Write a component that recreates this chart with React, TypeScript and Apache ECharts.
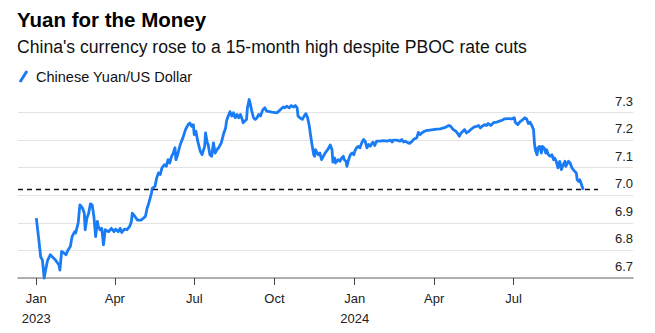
import React, { useEffect, useRef } from "react";
import * as echarts from "echarts";

// Days since 2023-01-01 for each observation
const dayOffsets = [
  0, 2, 5, 7, 9, 11, 13, 16, 22, 26, 27, 29, 32, 34, 36, 39, 41, 44, 45, 48,
  49, 50, 53, 55, 56, 58, 60, 62, 64, 66, 68, 70, 71, 73, 75, 77, 79, 83, 86, 89,
  91, 94, 96, 98, 101, 104, 107, 109, 110, 113, 116, 120, 125, 127, 129, 132, 133, 136, 138, 140,
  142, 144, 147, 149, 151, 153, 155, 157, 159, 160, 162, 165, 168, 171, 174, 176, 178, 180, 181, 183,
  185, 188, 190, 193, 194, 196, 197, 199, 201, 203, 205, 207, 209, 212, 215, 217, 218, 220, 222, 224,
  226, 228, 230, 232, 234, 236, 237, 239, 241, 242, 244, 245, 247, 249, 251, 253, 255, 257, 259, 260,
  262, 264, 270, 276, 278, 280, 283, 285, 287, 290, 292, 295, 297, 299, 300, 302, 305, 307, 309, 311,
  313, 314, 316, 318, 319, 320, 323, 325, 327, 329, 331, 334, 337, 339, 340, 342, 343, 346, 348, 350,
  352, 353, 355, 356, 358, 360, 362, 364, 365, 367, 369, 371, 373, 375, 377, 379, 381, 383, 385, 386,
  388, 390, 394, 398, 402, 406, 408, 409, 413, 417, 419, 421, 423, 426, 428, 431, 433, 436, 438, 440,
  442, 445, 447, 451, 455, 459, 463, 467, 470, 473, 475, 478, 481, 483, 485, 487, 489, 491, 493, 496,
  499, 502, 505, 507, 509, 511, 514, 516, 518, 521, 524, 528, 531, 534, 537, 541, 545, 548, 549, 552,
  554, 557, 560, 562, 564, 566, 568, 570, 571, 572, 574, 575, 577, 579, 580, 582, 584, 585, 587, 589,
  591, 593, 594, 596, 598, 600, 602, 604, 606, 607, 610, 612, 614, 617, 619, 620, 622, 623, 625, 627,
];

// Chinese yuan per US dollar
const usdCny = [
  6.917, 6.863, 6.777, 6.765, 6.7, 6.735, 6.765, 6.784, 6.765, 6.747, 6.729, 6.796, 6.79, 6.784, 6.8, 6.814, 6.85, 6.868, 6.863, 6.899,
  6.935, 6.965, 6.953, 6.935, 6.875, 6.917, 6.935, 6.969, 6.965, 6.923, 6.85, 6.905, 6.887, 6.875, 6.88, 6.82, 6.875, 6.868, 6.88, 6.868,
  6.877, 6.868, 6.88, 6.865, 6.877, 6.875, 6.887, 6.905, 6.935, 6.923, 6.91, 6.91, 6.923, 6.953, 6.972, 7.008, 7.026, 7.032, 7.063, 7.081,
  7.075, 7.099, 7.111, 7.105, 7.129, 7.117, 7.141, 7.153, 7.172, 7.129, 7.147, 7.184, 7.208, 7.238, 7.256, 7.262, 7.25, 7.256, 7.22, 7.232,
  7.196, 7.159, 7.147, 7.177, 7.226, 7.19, 7.184, 7.147, 7.141, 7.19, 7.153, 7.165, 7.172, 7.19, 7.226, 7.244, 7.269, 7.287, 7.303, 7.287,
  7.299, 7.281, 7.293, 7.281, 7.293, 7.275, 7.263, 7.269, 7.275, 7.317, 7.347, 7.335, 7.305, 7.281, 7.275, 7.281, 7.293, 7.287, 7.305, 7.311,
  7.317, 7.305, 7.301, 7.299, 7.305, 7.311, 7.32, 7.317, 7.323, 7.317, 7.325, 7.32, 7.325, 7.317, 7.287, 7.281, 7.275, 7.287, 7.296, 7.281,
  7.25, 7.226, 7.184, 7.147, 7.141, 7.165, 7.147, 7.153, 7.129, 7.141, 7.153, 7.165, 7.182, 7.165, 7.12, 7.135, 7.117, 7.129, 7.123, 7.135,
  7.141, 7.129, 7.123, 7.105, 7.129, 7.147, 7.153, 7.147, 7.159, 7.172, 7.177, 7.172, 7.19, 7.202, 7.196, 7.172, 7.184, 7.178, 7.19, 7.192,
  7.18, 7.196, 7.196, 7.198, 7.196, 7.2, 7.193, 7.2, 7.2, 7.196, 7.202, 7.193, 7.196, 7.19, 7.188, 7.196, 7.204, 7.208, 7.228, 7.22,
  7.226, 7.232, 7.234, 7.236, 7.238, 7.24, 7.241, 7.244, 7.248, 7.253, 7.25, 7.238, 7.232, 7.224, 7.214, 7.226, 7.232, 7.238, 7.226, 7.232,
  7.241, 7.248, 7.25, 7.253, 7.244, 7.25, 7.256, 7.253, 7.26, 7.253, 7.263, 7.265, 7.269, 7.272, 7.277, 7.278, 7.277, 7.281, 7.265, 7.256,
  7.265, 7.272, 7.281, 7.277, 7.26, 7.265, 7.253, 7.238, 7.19, 7.165, 7.147, 7.172, 7.177, 7.153, 7.177, 7.172, 7.153, 7.165, 7.147, 7.141,
  7.147, 7.129, 7.135, 7.123, 7.099, 7.123, 7.093, 7.111, 7.123, 7.105, 7.123, 7.117, 7.099, 7.087, 7.081, 7.056, 7.05, 7.056, 7.038, 7.02,
];

// Quarter starts (days since 2023-01-01) and their labels
const quarterTickDays = [0, 90, 181, 273, 365, 456, 547];
const quarterTickLabels = ["Jan\n2023", "Apr", "Jul", "Oct", "Jan\n2024", "Apr", "Jul"];

const yMin = 6.7;
const yMax = 7.3;
const yStep = 0.1;

const xStartDay = -21;
const xEndDay = 684;
const referenceLevel = 7.02;
const referenceEndDay = 644;

const titleText = "Yuan for the Money";
const subtitleText = "China's currency rose to a 15-month high despite PBOC rate cuts";
const legendText = "Chinese Yuan/US Dollar";

const FONT = "'Liberation Sans', Arial, Helvetica, sans-serif";
const BLUE = "#1a7cf5";

export default function App() {
  const ref = useRef<HTMLDivElement>(null);

  useEffect(() => {
    if (!ref.current) return;
    const chart = echarts.init(ref.current, null, { renderer: "svg" });
    const seriesData = dayOffsets.map((d, i) => [d, usdCny[i]]);

    chart.setOption({
      animation: false,
      textStyle: { fontFamily: FONT },
      title: [
        {
          text: titleText,
          left: 17,
          top: 9,
          padding: 0,
          textStyle: { fontFamily: FONT, fontSize: 20.5, fontWeight: "bold", color: "#000" },
        },
        {
          text: subtitleText,
          left: 17,
          top: 38,
          padding: 0,
          textStyle: { fontFamily: FONT, fontSize: 17.6, fontWeight: "normal", color: "#111" },
        },
      ],
      graphic: [
        {
          type: "line",
          shape: { x1: 20, y1: 82, x2: 27, y2: 71 },
          style: { stroke: BLUE, lineWidth: 3 },
        },
        {
          type: "text",
          x: 36,
          y: 77,
          style: {
            text: legendText,
            font: `14.5px ${FONT}`,
            fill: "#111",
            verticalAlign: "middle",
            align: "left",
          },
        },
      ],
      grid: { left: 18, right: 22, top: 112.5, bottom: 55, containLabel: false },
      xAxis: {
        type: "value",
        min: xStartDay,
        max: xEndDay,
        axisLine: { show: true, onZero: false, lineStyle: { color: "#999", width: 1.5 } },
        axisTick: {
          show: true,
          customValues: quarterTickDays,
          length: 7,
          lineStyle: { color: "#444", width: 1 },
        },
        axisLabel: {
          customValues: quarterTickDays,
          formatter: (v: number) => {
            const i = quarterTickDays.indexOf(Math.round(v));
            return i >= 0 ? quarterTickLabels[i] : "";
          },
          fontFamily: FONT,
          fontSize: 13,
          color: "#222",
          lineHeight: 20,
          margin: 10,
        },
        splitLine: { show: false },
      },
      yAxis: {
        type: "value",
        position: "right",
        min: yMin,
        max: yMax,
        interval: yStep,
        axisLine: { show: false },
        axisTick: { show: false },
        splitLine: { show: true, lineStyle: { color: "#e3e3e3", width: 1 } },
        axisLabel: {
          inside: true,
          margin: 0,
          align: "right",
          verticalAlign: "bottom",
          padding: [0, 0, 5, 0],
          fontFamily: FONT,
          fontSize: 13,
          color: "#222",
          formatter: (v: number) => v.toFixed(1),
        },
      },
      series: [
        {
          type: "line",
          data: seriesData,
          showSymbol: false,
          clip: false,
          lineStyle: { color: BLUE, width: 2.8, join: "round" },
          z: 3,
          markLine: {
            silent: true,
            symbol: "none",
            label: { show: false },
            lineStyle: { color: "#111", type: [5, 4], width: 1.3 },
            data: [[{ coord: [xStartDay, referenceLevel] }, { coord: [referenceEndDay, referenceLevel] }]],
          },
        },
      ],
    });

    return () => chart.dispose();
  }, []);

  return (
    <div
      ref={ref}
      style={{ position: "fixed", left: 0, top: 0, width: 655, height: 333, background: "#fff" }}
    />
  );
}
